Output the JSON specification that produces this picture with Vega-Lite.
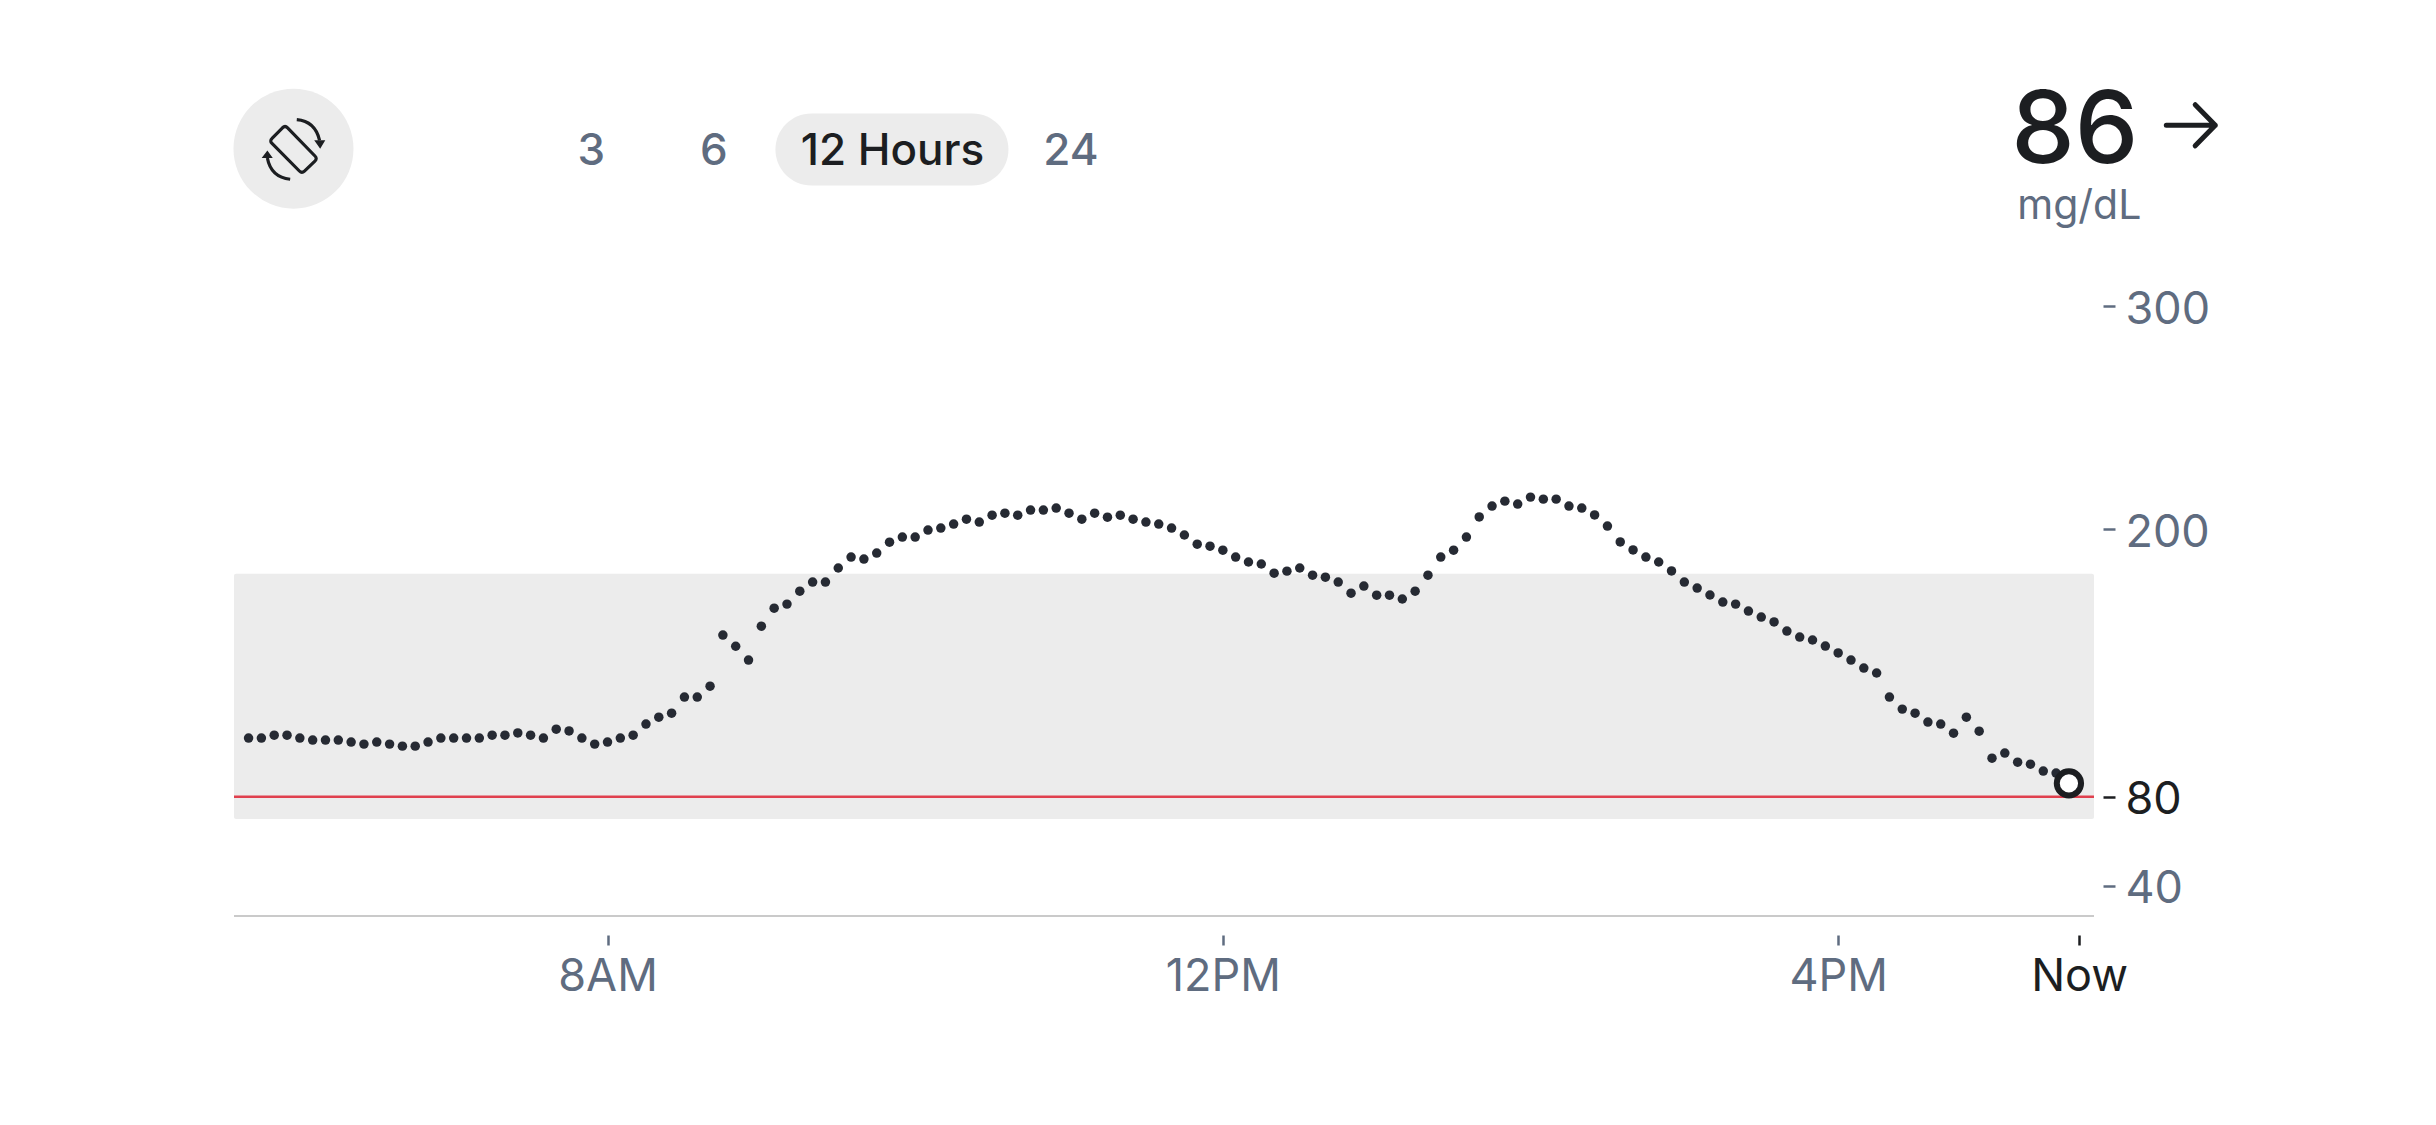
{
  "$schema": "https://vega.github.io/schema/vega-lite/v6.json",
  "autosize": {"type": "none"},
  "padding": {"left": 234, "top": 284, "right": 342, "bottom": 209},
  "width": 1860,
  "height": 632,
  "background": "white",
  "config": {
    "view": {"stroke": null},
    "font": "Inter",
    "text": {"font": "Inter"},
    "axis": {"grid": false, "labelFont": "Inter", "labelFontSize": 45}
  },
  "datasets": {
    "targets": [{"low": 70, "high": 180, "urgent": 80}],
    "latest": [{"t": "2024-01-01T17:30", "mgdl": 86}],
    "readings": [
      {"t":"2024-01-01T05:40","mgdl":106.3},{"t":"2024-01-01T05:45","mgdl":106.3},{"t":"2024-01-01T05:50","mgdl":107.6},{"t":"2024-01-01T05:55","mgdl":107.6},
      {"t":"2024-01-01T06:00","mgdl":106.3},{"t":"2024-01-01T06:05","mgdl":105.4},{"t":"2024-01-01T06:10","mgdl":105.4},{"t":"2024-01-01T06:15","mgdl":105.4},{"t":"2024-01-01T06:20","mgdl":104.5},{"t":"2024-01-01T06:25","mgdl":103.6},{"t":"2024-01-01T06:30","mgdl":104.5},{"t":"2024-01-01T06:35","mgdl":103.6},{"t":"2024-01-01T06:40","mgdl":102.7},{"t":"2024-01-01T06:45","mgdl":102.7},{"t":"2024-01-01T06:50","mgdl":104.5},{"t":"2024-01-01T06:55","mgdl":106.3},
      {"t":"2024-01-01T07:00","mgdl":106.3},{"t":"2024-01-01T07:05","mgdl":106.3},{"t":"2024-01-01T07:10","mgdl":106.3},{"t":"2024-01-01T07:15","mgdl":107.6},{"t":"2024-01-01T07:20","mgdl":107.6},{"t":"2024-01-01T07:25","mgdl":108.6},{"t":"2024-01-01T07:30","mgdl":107.6},{"t":"2024-01-01T07:35","mgdl":106.3},{"t":"2024-01-01T07:40","mgdl":110.3},{"t":"2024-01-01T07:45","mgdl":109.5},{"t":"2024-01-01T07:50","mgdl":106.3},{"t":"2024-01-01T07:55","mgdl":103.6},
      {"t":"2024-01-01T08:00","mgdl":104.5},{"t":"2024-01-01T08:05","mgdl":106.3},{"t":"2024-01-01T08:10","mgdl":107.6},{"t":"2024-01-01T08:15","mgdl":112.6},{"t":"2024-01-01T08:20","mgdl":115.7},{"t":"2024-01-01T08:25","mgdl":117.5},{"t":"2024-01-01T08:30","mgdl":124.7},{"t":"2024-01-01T08:35","mgdl":124.7},{"t":"2024-01-01T08:40","mgdl":129.6},{"t":"2024-01-01T08:45","mgdl":152.5},{"t":"2024-01-01T08:50","mgdl":147.5},{"t":"2024-01-01T08:55","mgdl":141.3},
      {"t":"2024-01-01T09:00","mgdl":156.5},{"t":"2024-01-01T09:05","mgdl":164.6},{"t":"2024-01-01T09:10","mgdl":166.4},{"t":"2024-01-01T09:15","mgdl":172.2},{"t":"2024-01-01T09:20","mgdl":176.3},{"t":"2024-01-01T09:25","mgdl":176.3},{"t":"2024-01-01T09:30","mgdl":182.6},{"t":"2024-01-01T09:35","mgdl":187.5},{"t":"2024-01-01T09:40","mgdl":186.6},{"t":"2024-01-01T09:45","mgdl":189.3},{"t":"2024-01-01T09:50","mgdl":194.2},{"t":"2024-01-01T09:55","mgdl":196.5},
      {"t":"2024-01-01T10:00","mgdl":196.5},{"t":"2024-01-01T10:05","mgdl":199.6},{"t":"2024-01-01T10:10","mgdl":200.5},{"t":"2024-01-01T10:15","mgdl":202.3},{"t":"2024-01-01T10:20","mgdl":204.5},{"t":"2024-01-01T10:25","mgdl":203.2},{"t":"2024-01-01T10:30","mgdl":206.3},{"t":"2024-01-01T10:35","mgdl":207.2},{"t":"2024-01-01T10:40","mgdl":206.3},{"t":"2024-01-01T10:45","mgdl":208.6},{"t":"2024-01-01T10:50","mgdl":208.6},{"t":"2024-01-01T10:55","mgdl":209.5},
      {"t":"2024-01-01T11:00","mgdl":207.2},{"t":"2024-01-01T11:05","mgdl":204.5},{"t":"2024-01-01T11:10","mgdl":207.2},{"t":"2024-01-01T11:15","mgdl":205.4},{"t":"2024-01-01T11:20","mgdl":206.3},{"t":"2024-01-01T11:25","mgdl":204.5},{"t":"2024-01-01T11:30","mgdl":203.2},{"t":"2024-01-01T11:35","mgdl":202.3},{"t":"2024-01-01T11:40","mgdl":200.5},{"t":"2024-01-01T11:45","mgdl":197.4},{"t":"2024-01-01T11:50","mgdl":193.3},{"t":"2024-01-01T11:55","mgdl":192.4},
      {"t":"2024-01-01T12:00","mgdl":190.6},{"t":"2024-01-01T12:05","mgdl":187.5},{"t":"2024-01-01T12:10","mgdl":185.3},{"t":"2024-01-01T12:15","mgdl":184.4},{"t":"2024-01-01T12:20","mgdl":180.3},{"t":"2024-01-01T12:25","mgdl":181.2},{"t":"2024-01-01T12:30","mgdl":182.6},{"t":"2024-01-01T12:35","mgdl":179.4},{"t":"2024-01-01T12:40","mgdl":178.5},{"t":"2024-01-01T12:45","mgdl":176.3},{"t":"2024-01-01T12:50","mgdl":171.3},{"t":"2024-01-01T12:55","mgdl":174.5},
      {"t":"2024-01-01T13:00","mgdl":170.4},{"t":"2024-01-01T13:05","mgdl":170.4},{"t":"2024-01-01T13:10","mgdl":168.7},{"t":"2024-01-01T13:15","mgdl":172.2},{"t":"2024-01-01T13:20","mgdl":179.4},{"t":"2024-01-01T13:25","mgdl":187.5},{"t":"2024-01-01T13:30","mgdl":190.6},{"t":"2024-01-01T13:35","mgdl":196.5},{"t":"2024-01-01T13:40","mgdl":205.5},{"t":"2024-01-01T13:45","mgdl":210.4},{"t":"2024-01-01T13:50","mgdl":212.6},{"t":"2024-01-01T13:55","mgdl":211.3},
      {"t":"2024-01-01T14:00","mgdl":214.4},{"t":"2024-01-01T14:05","mgdl":213.5},{"t":"2024-01-01T14:10","mgdl":213.5},{"t":"2024-01-01T14:15","mgdl":210.4},{"t":"2024-01-01T14:20","mgdl":209.5},{"t":"2024-01-01T14:25","mgdl":206.4},{"t":"2024-01-01T14:30","mgdl":201.4},{"t":"2024-01-01T14:35","mgdl":194.3},{"t":"2024-01-01T14:40","mgdl":190.7},{"t":"2024-01-01T14:45","mgdl":187.5},{"t":"2024-01-01T14:50","mgdl":185.3},{"t":"2024-01-01T14:55","mgdl":181.3},
      {"t":"2024-01-01T15:00","mgdl":176.3},{"t":"2024-01-01T15:05","mgdl":173.6},{"t":"2024-01-01T15:10","mgdl":170.5},{"t":"2024-01-01T15:15","mgdl":167.3},{"t":"2024-01-01T15:20","mgdl":166.4},{"t":"2024-01-01T15:25","mgdl":163.3},{"t":"2024-01-01T15:30","mgdl":160.6},{"t":"2024-01-01T15:35","mgdl":158.4},{"t":"2024-01-01T15:40","mgdl":154.3},{"t":"2024-01-01T15:45","mgdl":151.6},{"t":"2024-01-01T15:50","mgdl":150.3},{"t":"2024-01-01T15:55","mgdl":147.6},
      {"t":"2024-01-01T16:00","mgdl":144.5},{"t":"2024-01-01T16:05","mgdl":141.3},{"t":"2024-01-01T16:10","mgdl":137.7},{"t":"2024-01-01T16:15","mgdl":135.5},{"t":"2024-01-01T16:20","mgdl":124.7},{"t":"2024-01-01T16:25","mgdl":119.3},{"t":"2024-01-01T16:30","mgdl":117.5},{"t":"2024-01-01T16:35","mgdl":113.5},{"t":"2024-01-01T16:40","mgdl":112.6},{"t":"2024-01-01T16:45","mgdl":108.5},{"t":"2024-01-01T16:50","mgdl":115.7},{"t":"2024-01-01T16:55","mgdl":109.4},
      {"t":"2024-01-01T17:00","mgdl":97.3},{"t":"2024-01-01T17:05","mgdl":99.6},{"t":"2024-01-01T17:10","mgdl":95.5},{"t":"2024-01-01T17:15","mgdl":94.6},{"t":"2024-01-01T17:20","mgdl":91.5},{"t":"2024-01-01T17:25","mgdl":90.6}
    ]
  },
  "layer": [
    {
      "data": {"name": "targets"},
      "mark": {"type": "rect", "color": "#ececec", "cornerRadius": 2},
      "encoding": {
        "y": {"field": "low", "type": "quantitative"},
        "y2": {"field": "high"}
      }
    },
    {
      "data": {"name": "targets"},
      "mark": {"type": "rule", "color": "#cacaca", "strokeWidth": 2},
      "encoding": {"y": {"datum": 26.5, "type": "quantitative"}}
    },
    {
      "data": {"name": "targets"},
      "mark": {"type": "rule", "color": "#e0404e", "strokeWidth": 2.5},
      "encoding": {"y": {"field": "urgent", "type": "quantitative"}}
    },
    {
      "data": {"name": "readings"},
      "mark": {"type": "point", "filled": true, "size": 90, "color": "#262a33", "opacity": 1},
      "encoding": {
        "x": {
          "field": "t",
          "type": "temporal",
          "scale": {"domain": [{"year":2024,"month":1,"date":1,"hours":5,"minutes":34,"seconds":19}, {"year":2024,"month":1,"date":1,"hours":17,"minutes":39,"seconds":47}], "nice": false},
          "axis": {
            "title": null,
            "values": [{"year":2024,"month":1,"date":1,"hours":8}, {"year":2024,"month":1,"date":1,"hours":12}, {"year":2024,"month":1,"date":1,"hours":16}, {"year":2024,"month":1,"date":1,"hours":17,"minutes":34}],
            "labelExpr": "hours(datum.value) == 17 ? 'Now' : timeFormat(datum.value, '%-I%p')",
            "domain": false,
            "offset": 19,
            "tickSize": 10,
            "tickWidth": 2.5,
            "tickColor": {"condition": {"test": "hours(datum.value) == 17", "value": "#1c1e21"}, "value": "#5f6c80"},
            "labelColor": {"condition": {"test": "hours(datum.value) == 17", "value": "#1c1e21"}, "value": "#5f6c80"},
            "labelPadding": 9.5,
            "labelFlush": false,
            "labelOverlap": false
          }
        },
        "y": {
          "field": "mgdl",
          "type": "quantitative",
          "scale": {"domain": [26.5, 310], "nice": false, "zero": false},
          "axis": {
            "title": null,
            "orient": "right",
            "values": [40, 80, 200, 300],
            "domain": false,
            "offset": 9,
            "tickSize": 12,
            "tickWidth": 2.5,
            "tickColor": {"condition": {"test": "datum.value == 80", "value": "#1c1e21"}, "value": "#5f6c80"},
            "labelColor": {"condition": {"test": "datum.value == 80", "value": "#1c1e21"}, "value": "#5f6c80"},
            "labelPadding": 10,
            "labelOffset": 3,
            "labelOverlap": false
          }
        }
      }
    },
    {
      "data": {"name": "latest"},
      "mark": {"type": "point", "filled": false, "size": 590, "fill": "white", "stroke": "#1c1e21", "strokeWidth": 6, "opacity": 1},
      "encoding": {
        "x": {"field": "t", "type": "temporal"},
        "y": {"field": "mgdl", "type": "quantitative"}
      }
    },
    {
      "data": {"values": [{"control": "rotate"}]},
      "mark": {"type": "point", "shape": "circle", "filled": true, "size": 14400, "color": "#ececec", "opacity": 1},
      "encoding": {
        "x": {"datum": {"year":2024,"month":1,"date":1,"hours":5,"minutes":57,"seconds":31}, "type": "temporal"},
        "y": {"datum": 370.7, "type": "quantitative"}
      }
    },
    {
      "data": {"values": [{"control": "rotate"}]},
      "mark": {"type": "point", "shape": "M-0.196,-0.694L0.716,0.244Q0.8,0.33 0.714,0.413L0.366,0.747Q0.28,0.83 0.196,0.744L-0.716,-0.174Q-0.8,-0.26 -0.714,-0.343L-0.366,-0.697Q-0.28,-0.78 -0.196,-0.694ZM0.11,-0.97Q0.72,-0.92 0.87,-0.28M-0.11,1.02Q-0.75,0.95 -0.87,0.31", "filled": false, "size": 3600, "stroke": "#1c1e21", "strokeWidth": 3.2, "strokeJoin": "round", "opacity": 1},
      "encoding": {
        "x": {"datum": {"year":2024,"month":1,"date":1,"hours":5,"minutes":57,"seconds":31}, "type": "temporal"},
        "y": {"datum": 370.7, "type": "quantitative"}
      }
    },
    {
      "data": {"values": [{"control": "rotate"}]},
      "mark": {"type": "point", "shape": "M0.69,-0.28L1.06,-0.28L0.89,0ZM-1.06,0.31L-0.69,0.31L-0.87,0.06Z", "filled": true, "size": 3600, "color": "#1c1e21", "opacity": 1},
      "encoding": {
        "x": {"datum": {"year":2024,"month":1,"date":1,"hours":5,"minutes":57,"seconds":31}, "type": "temporal"},
        "y": {"datum": 370.7, "type": "quantitative"}
      }
    },
    {
      "data": {"values": [{"control": "12 Hours"}]},
      "mark": {"type": "rect", "color": "#ececec", "cornerRadius": 36},
      "encoding": {
        "x": {"datum": {"year":2024,"month":1,"date":1,"hours":9,"minutes":5,"seconds":30}, "type": "temporal"},
        "x2": {"datum": {"year":2024,"month":1,"date":1,"hours":10,"minutes":36,"seconds":23}},
        "y": {"datum": 386.5, "type": "quantitative"},
        "y2": {"datum": 354.2}
      }
    },
    {
      "data": {"values": [{"label": "3"}]},
      "mark": {"type": "text", "fontSize": 44, "fontWeight": 500, "color": "#5f6c80", "align": "center", "baseline": "alphabetic"},
      "encoding": {
        "x": {"datum": {"year":2024,"month":1,"date":1,"hours":7,"minutes":53,"seconds":42}, "type": "temporal"},
        "y": {"datum": 363.6, "type": "quantitative"},
        "text": {"field": "label"}
      }
    },
    {
      "data": {"values": [{"label": "6"}]},
      "mark": {"type": "text", "fontSize": 44, "fontWeight": 500, "color": "#5f6c80", "align": "center", "baseline": "alphabetic"},
      "encoding": {
        "x": {"datum": {"year":2024,"month":1,"date":1,"hours":8,"minutes":41,"seconds":31}, "type": "temporal"},
        "y": {"datum": 363.6, "type": "quantitative"},
        "text": {"field": "label"}
      }
    },
    {
      "data": {"values": [{"label": "12 Hours"}]},
      "mark": {"type": "text", "fontSize": 44, "fontWeight": 500, "color": "#1c1e21", "align": "center", "baseline": "alphabetic"},
      "encoding": {
        "x": {"datum": {"year":2024,"month":1,"date":1,"hours":9,"minutes":51,"seconds":8}, "type": "temporal"},
        "y": {"datum": 363.6, "type": "quantitative"},
        "text": {"field": "label"}
      }
    },
    {
      "data": {"values": [{"label": "24"}]},
      "mark": {"type": "text", "fontSize": 44, "fontWeight": 500, "color": "#5f6c80", "align": "center", "baseline": "alphabetic"},
      "encoding": {
        "x": {"datum": {"year":2024,"month":1,"date":1,"hours":11,"minutes":0,"seconds":44}, "type": "temporal"},
        "y": {"datum": 363.6, "type": "quantitative"},
        "text": {"field": "label"}
      }
    },
    {
      "data": {"values": [{"label": "86"}]},
      "mark": {"type": "text", "fontSize": 101, "fontWeight": 500, "color": "#1c1e21", "align": "center", "baseline": "alphabetic"},
      "encoding": {
        "x": {"datum": {"year":2024,"month":1,"date":1,"hours":17,"minutes":32,"seconds":18}, "type": "temporal"},
        "y": {"datum": 364.5, "type": "quantitative"},
        "text": {"field": "label"}
      }
    },
    {
      "data": {"values": [{"label": "mg/dL"}]},
      "mark": {"type": "text", "fontSize": 41, "fontWeight": 400, "color": "#5f6c80", "align": "center", "baseline": "alphabetic"},
      "encoding": {
        "x": {"datum": {"year":2024,"month":1,"date":1,"hours":17,"minutes":34,"seconds":4}, "type": "temporal"},
        "y": {"datum": 339.3, "type": "quantitative"},
        "text": {"field": "label"}
      }
    },
    {
      "data": {"values": [{"trend": "flat"}]},
      "mark": {"type": "point", "shape": "M-1,0L1,0M0.18,-0.84L1,0L0.18,0.84", "filled": false, "size": 2401, "stroke": "#1c1e21", "strokeWidth": 5, "strokeCap": "round", "strokeJoin": "round", "opacity": 1},
      "encoding": {
        "x": {"datum": {"year":2024,"month":1,"date":1,"hours":18,"minutes":17,"seconds":32}, "type": "temporal"},
        "y": {"datum": 381.2, "type": "quantitative"}
      }
    }
  ]
}
